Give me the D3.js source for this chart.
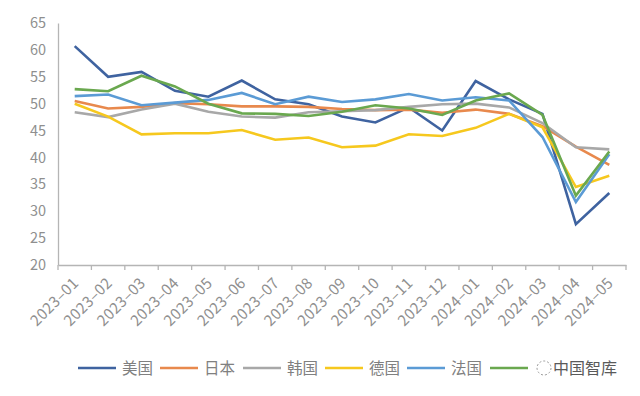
<!DOCTYPE html>
<html>
<head>
<meta charset="utf-8">
<script src="https://cdn.jsdelivr.net/npm/d3@7"></script>
<style>
  body { margin: 0; background: #fff; }
  text { font-family: "Noto Sans CJK SC", "Noto Sans", sans-serif; }
</style>
</head>
<body>
<div id="chart-area"></div>
<script>
const months = ["2023-01", "2023-02", "2023-03", "2023-04", "2023-05", "2023-06", "2023-07", "2023-08", "2023-09",
  "2023-10", "2023-11", "2023-12", "2024-01", "2024-02", "2024-03", "2024-04", "2024-05"]
const yTicks = [20, 25, 30, 35, 40, 45, 50, 55, 60, 65]

const usa     = [60.7, 55.0, 55.9, 52.4, 51.3, 54.3, 50.8, 49.9, 47.6, 46.5, 49.3, 45.0, 54.2, 50.8, 48.1, 27.6, 33.4]
const japan   = [50.5, 49.1, 49.4, 50.1, 49.9, 49.5, 49.5, 49.4, 49.0, 48.8, 48.9, 48.3, 48.9, 48.1, 45.8, 42.0, 38.6]
const korea   = [48.4, 47.5, 48.9, 50.0, 48.5, 47.6, 47.4, 48.4, 48.6, 48.8, 49.4, 49.9, 50.0, 49.3, 46.4, 41.9, 41.5]
const germany = [50.0, 47.6, 44.3, 44.5, 44.5, 45.1, 43.3, 43.7, 41.9, 42.2, 44.3, 44.0, 45.5, 48.1, 45.6, 34.5, 36.6]
const france  = [51.4, 51.7, 49.7, 50.2, 50.7, 52.0, 49.9, 51.3, 50.3, 50.8, 51.8, 50.6, 51.2, 50.6, 43.8, 31.7, 40.6]
const uk      = [52.7, 52.3, 55.2, 53.2, 50.0, 48.2, 48.1, 47.7, 48.5, 49.7, 49.1, 47.9, 50.6, 51.9, 47.9, 32.9, 41.1]

const series = [
  { name: "美国", values: usa, color: "#3f63a0" },
  { name: "日本", values: japan, color: "#e8894d" },
  { name: "韩国", values: korea, color: "#a8a8a8" },
  { name: "德国", values: germany, color: "#f6c81e" },
  { name: "法国", values: france, color: "#5b9bd5" },
  { name: "", values: uk, color: "#6aa84f" }
]

const MARGIN = { LEFT: 58, RIGHT: 14, TOP: 23, BOTTOM: 131 }
const WIDTH = 640 - MARGIN.LEFT - MARGIN.RIGHT
const HEIGHT = 396 - MARGIN.TOP - MARGIN.BOTTOM

const svg = d3.select("#chart-area").append("svg")
  .attr("width", 640)
  .attr("height", 396)

const g = svg.append("g")
  .attr("transform", `translate(${MARGIN.LEFT}, ${MARGIN.TOP})`)

const x = d3.scaleBand()
  .domain(months)
  .range([0, WIDTH])

const y = d3.scaleLinear()
  .domain([20, 65])
  .range([HEIGHT, 0])

// Y axis: line + labels, no ticks
const yAxisGroup = g.append("g")
  .call(d3.axisLeft(y).tickValues(yTicks).tickSize(0).tickPadding(12))
yAxisGroup.select(".domain").attr("stroke", "#b5b5b5").attr("stroke-width", 1.3)
yAxisGroup.selectAll("text")
  .attr("font-size", "14.5px")
  .attr("fill", "#8f8f8f")

// X axis: ticks on band edges
const xAxisGroup = g.append("g")
  .attr("transform", `translate(0, ${HEIGHT})`)
  .call(d3.axisBottom(x).tickSize(0).tickFormat(""))
xAxisGroup.select(".domain").attr("stroke", "#b5b5b5").attr("stroke-width", 1.3)

const edges = months.map(m => x(m)).concat([WIDTH])
xAxisGroup.selectAll("line.edge")
  .data(edges)
  .enter().append("line")
  .attr("class", "edge")
  .attr("x1", d => d).attr("x2", d => d)
  .attr("y1", 0).attr("y2", 5)
  .attr("stroke", "#b5b5b5")
  .attr("stroke-width", 1.3)

xAxisGroup.selectAll("text.lbl")
  .data(months)
  .enter().append("text")
  .attr("class", "lbl")
  .attr("text-anchor", "end")
  .attr("font-size", "15px")
  .attr("letter-spacing", "0.4px")
  .attr("fill", "#8f8f8f")
  .attr("transform", d => `translate(${x(d) + x.bandwidth() / 2 + 5}, 19) rotate(-45)`)
  .text(d => d.replace("-", "–"))

// Lines
const line = d3.line()
  .x((d, i) => x(months[i]) + x.bandwidth() / 2)
  .y(d => y(d))

g.selectAll("path.series")
  .data(series)
  .enter().append("path")
  .attr("class", "series")
  .attr("fill", "none")
  .attr("stroke", d => d.color)
  .attr("stroke-width", 2.6)
  .attr("stroke-linejoin", "miter")
  .attr("d", d => line(d.values))

// Legend
const legendX = [78, 160, 243, 325, 407, 490]
const legend = svg.append("g")
  .attr("transform", "translate(0, 368)")

series.forEach((s, i) => {
  legend.append("line")
    .attr("x1", legendX[i]).attr("x2", legendX[i] + 38)
    .attr("y1", 0).attr("y2", 0)
    .attr("stroke", s.color)
    .attr("stroke-width", 2.6)
  legend.append("text")
    .attr("x", legendX[i] + 44)
    .attr("y", 5.5)
    .attr("font-size", "15.5px")
    .attr("fill", "#808080")
    .text(s.name)
})

// watermark over last legend label
legend.append("circle")
  .attr("cx", 544).attr("cy", 0).attr("r", 7)
  .attr("fill", "none")
  .attr("stroke", "#9a9a9a")
  .attr("stroke-width", 1)
  .attr("stroke-dasharray", "2,2")
legend.append("text")
  .attr("x", 553)
  .attr("y", 6)
  .attr("font-size", "16px")
  .attr("fill", "#5a5a5a")
  .text("中国智库")
</script>
</body>
</html>
